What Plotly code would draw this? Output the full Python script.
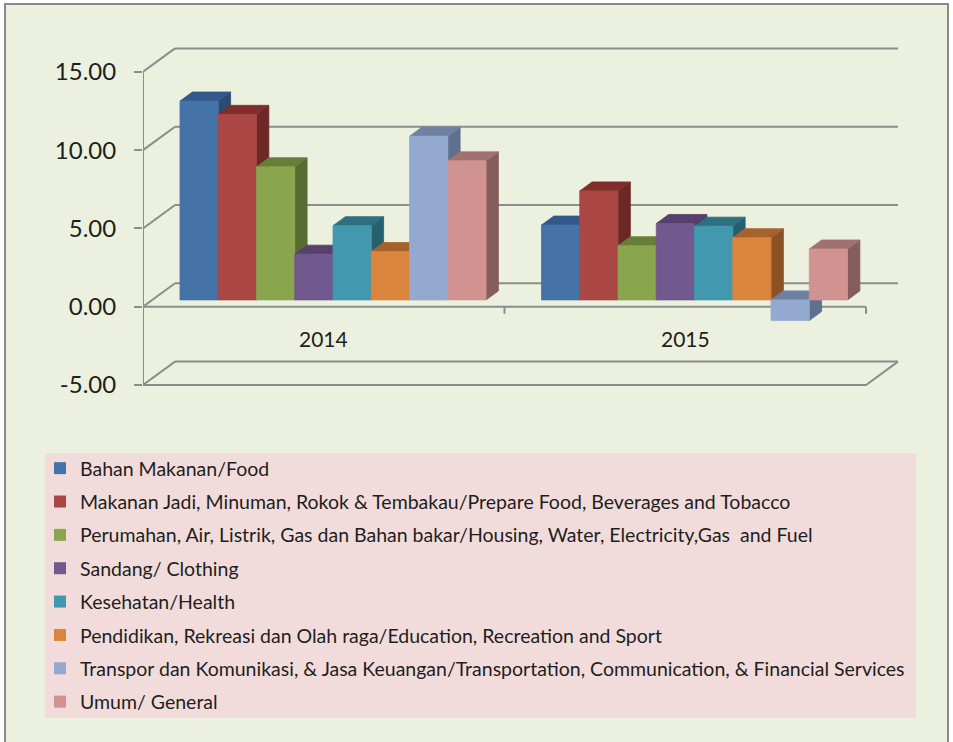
import plotly.graph_objects as go

# ---------------- data ----------------
categories = ["2014", "2015"]
series_names = [
    "Bahan Makanan/Food",
    "Makanan Jadi, Minuman, Rokok & Tembakau/Prepare Food, Beverages and Tobacco",
    "Perumahan, Air, Listrik, Gas dan Bahan bakar/Housing, Water, Electricity,Gas  and Fuel",
    "Sandang/ Clothing",
    "Kesehatan/Health",
    "Pendidikan, Rekreasi dan Olah raga/Education, Recreation and Sport",
    "Transpor dan Komunikasi, & Jasa Keuangan/Transportation, Communication, & Financial Services",
    "Umum/ General",
]
values_2014 = [12.70, 11.85, 8.50, 2.92, 4.74, 3.09, 10.45, 8.88]
values_2015 = [4.78, 6.96, 3.46, 4.88, 4.71, 3.97, -1.32, 3.25]
tick_vals = [-5, 0, 5, 10, 15]
tick_text = ["-5.00", "0.00", "5.00", "10.00", "15.00"]

front_colors = ["#4572A7", "#AA4643", "#89A54E", "#71588F", "#4198AF", "#DB843D", "#93A9CF", "#D19392"]
top_colors = ["#34588A", "#7F2E2C", "#677D38", "#573F6E", "#2E6F80", "#A6622D", "#6F81A3", "#A07170"]
side_colors = ["#2B4B73", "#6B2827", "#586B30", "#4A3A5E", "#26606E", "#8C5124", "#5F6F8E", "#845D5C"]

# ---------------- geometry (pixel mapping) ----------------
W, H = 953, 742
L, R, T, B = 143, 910, 30, 400
PX_PER_CAT = 361.5
PX_PER_UNIT = 15.66
ZERO_PX = 306.7
x_range = [0, (R - L) / PX_PER_CAT]
y_range = [(ZERO_PX - B) / PX_PER_UNIT, (ZERO_PX - T) / PX_PER_UNIT]


def pxx(px):
    return (px - L) / (R - L)


def pxy(py):
    return (B - py) / (B - T)


DX = 32 / PX_PER_CAT      # full depth offset in x units
DY = 23.4 / PX_PER_UNIT   # full depth offset in y units
F0, F1 = 0.29, 0.675      # bar front / back depth fractions
GAP = 0.0767
n_series = len(series_names)
BW = (1 - 2 * GAP) / n_series

grid_color = "#8C8C8C"
fig = go.Figure()


def line(xs, ys):
    fig.add_trace(go.Scatter(x=xs, y=ys, mode="lines", line=dict(color=grid_color, width=2),
                             hoverinfo="skip", showlegend=False))


n_cat = len(categories)
# back wall gridlines + left wall diagonals
for v in tick_vals:
    line([DX, n_cat + DX], [v + DY, v + DY])
    line([0, DX], [v, v + DY])
# floor front edge
vmin = tick_vals[0]
line([0, n_cat, n_cat + DX], [vmin, vmin, vmin + DY])
# vertical front axis
line([0, 0], [tick_vals[0], tick_vals[-1]])
# category axis at zero with ticks
line([0, n_cat], [0, 0])
for c in range(n_cat + 1):
    line([c, c], [0, -7 / PX_PER_UNIT])


def poly(xs, ys, color):
    fig.add_trace(go.Scatter(x=xs + [xs[0]], y=ys + [ys[0]], mode="lines", fill="toself",
                             fillcolor=color, line=dict(color=color, width=0.8),
                             hoverinfo="skip", showlegend=False))


all_values = [values_2014, values_2015]
for c, vals in enumerate(all_values):
    for s, v in enumerate(vals):
        xl = c + GAP + s * BW
        xr = xl + BW
        lo, hi = min(0, v), max(0, v)
        a0x, a0y = F0 * DX, F0 * DY
        a1x, a1y = F1 * DX, F1 * DY
        # side
        poly([xr + a0x, xr + a1x, xr + a1x, xr + a0x],
             [lo + a0y, lo + a1y, hi + a1y, hi + a0y], side_colors[s])
        # top
        poly([xl + a0x, xr + a0x, xr + a1x, xl + a1x],
             [hi + a0y, hi + a0y, hi + a1y, hi + a1y], top_colors[s])
        # front
        poly([xl + a0x, xr + a0x, xr + a0x, xl + a0x],
             [lo + a0y, lo + a0y, hi + a0y, hi + a0y], front_colors[s])

# legend entries
for s, name in enumerate(series_names):
    fig.add_trace(go.Bar(x=[0], y=[0], name=name, marker=dict(color=front_colors[s], line=dict(width=0)),
                         legendgroup="g%d" % s, hoverinfo="skip"))

# category labels
for c, cat in enumerate(categories):
    fig.add_annotation(x=c + 0.5, y=-2.0, text=cat, showarrow=False,
                       font=dict(family="Lato", size=21, color="#1E1E1E"))

fig.update_layout(
    width=W, height=H,
    margin=dict(l=L, r=W - R, t=T, b=H - B, autoexpand=False),
    paper_bgcolor="white",
    plot_bgcolor="rgba(0,0,0,0)",
    font=dict(family="Lato", color="#1E1E1E"),
    xaxis=dict(range=x_range, visible=False, fixedrange=True),
    yaxis=dict(range=y_range, tickvals=tick_vals, ticktext=tick_text, showgrid=False,
               zeroline=False, showline=False, ticks="outside", ticklen=8, tickwidth=2,
               tickcolor=grid_color, tickfont=dict(family="Lato", size=24, color="#1E1E1E"),
               ticklabelstandoff=13, fixedrange=True),
    showlegend=True,
    legend=dict(x=pxx(40), y=pxy(449), xanchor="left", yanchor="top",
                bgcolor="rgba(0,0,0,0)", font=dict(family="Lato", size=19.5, color="#1E1E1E"),
                tracegroupgap=5, itemclick=False, itemdoubleclick=False),
    shapes=[
        dict(type="rect", xref="paper", yref="paper", x0=pxx(5), x1=pxx(948), y0=pxy(760), y1=pxy(4),
             fillcolor="#EBF1DE", line=dict(color="#8A8A8A", width=2), layer="below"),
        dict(type="rect", xref="paper", yref="paper", x0=pxx(45), x1=pxx(916), y0=pxy(718),
             y1=pxy(453), fillcolor="#F2DCDB", line=dict(width=0), layer="below"),
    ],
)

fig.write_html("out.html", config={"displayModeBar": False},
               post_script="document.body.style.margin='0';")
